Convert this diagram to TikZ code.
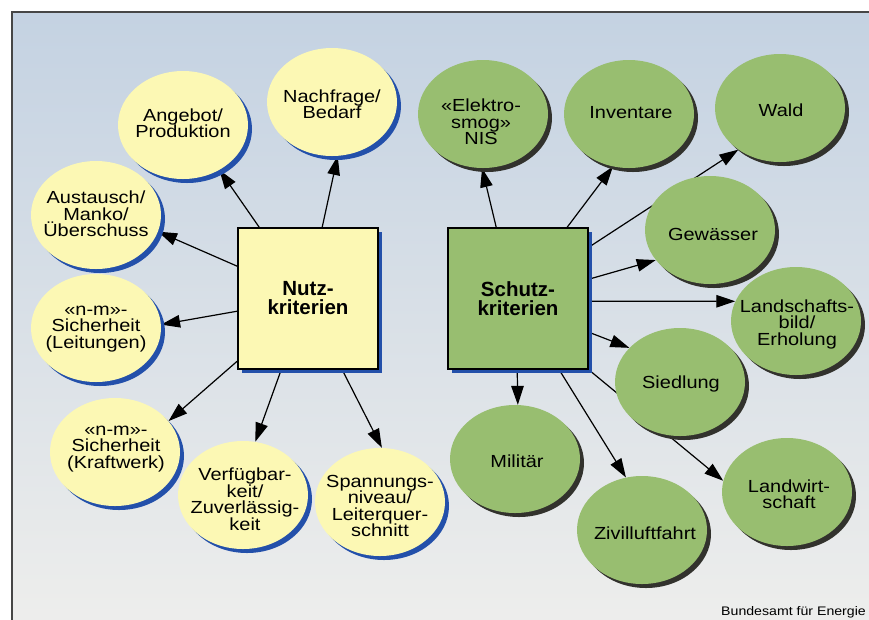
\documentclass[tikz,border=0pt]{standalone}
\usepackage{fontspec}
\setmainfont{Liberation Sans}
\newfontfamily\widesans{Liberation Sans}[FakeStretch=1.14]
\usetikzlibrary{shapes.geometric,arrows.meta,shadows,calc}
\pgfdeclarelayer{bglayer}
\pgfdeclarelayer{edgelayer}
\pgfsetlayers{bglayer,edgelayer,main}
\definecolor{yel}{RGB}{252,248,180}
\definecolor{grn}{RGB}{152,190,112}
\definecolor{shblue}{RGB}{35,80,170}
\definecolor{shgray}{RGB}{50,50,45}
\definecolor{bgtop}{RGB}{196,210,226}
\definecolor{bgbot}{RGB}{238,238,236}
\definecolor{framec}{RGB}{70,70,70}
\begin{document}
\begin{tikzpicture}[x=1pt,y=-1pt,
  ell/.style={ellipse, minimum width=130pt, minimum height=108pt, inner sep=0pt},
  yell/.style={ell, fill=yel, drop shadow={shadow xshift=4pt, shadow yshift=-4pt, fill=shblue, opacity=1}},
  gell/.style={ell, fill=grn, drop shadow={shadow xshift=4pt, shadow yshift=-4pt, fill=shgray, opacity=1}},
  lbl/.style={align=center, font=\widesans\fontsize{17.5}{16.5}\selectfont, inner sep=0pt},
  critbox/.style={rectangle, minimum width=140pt, minimum height=141pt, draw=black, line width=1.6pt, drop shadow={shadow xshift=4pt, shadow yshift=-4pt, fill=shblue, opacity=1}},
  boxlbl/.style={align=center, font=\bfseries\fontsize{20.5}{19}\selectfont, inner sep=0pt},
  arr/.style={-{Triangle[length=19pt,width=12.5pt]}, line width=1.2pt, black},
]
\useasboundingbox (0,0) rectangle (869,619);
\begin{pgfonlayer}{bglayer}
\fill[white] (0,0) rectangle (869,619);
\shade[top color=bgtop, bottom color=bgbot] (12,12) rectangle (880,630);
\draw[framec, line width=1.5pt] (12,630) -- (12,12) -- (880,12);
\end{pgfonlayer}

% central boxes
\node[critbox, fill=yel] (nutz) at (308,298.5) {};
\node[boxlbl] (nutzT) at (nutz) {Nutz-\\kriterien};
\node[critbox, fill=grn] (schutz) at (518,298.5) {};
\node[boxlbl] (schutzT) at (schutz) {Schutz-\\kriterien};

% yellow ellipses
\node[yell] (ang) at (183,125) {};
\node[lbl] (angT) at (183,123) {Angebot/\\Produktion};
\node[yell] (nf) at (332,102) {};
\node[lbl] (nfT) at (332,104) {Nachfrage/\\Bedarf};
\node[yell] (aus) at (96,215) {};
\node[lbl] (ausT) at (96,214) {Austausch/\\Manko/\\Überschuss};
\node[yell] (lei) at (96,328) {};
\node[lbl] (leiT) at (96,329) {«n-m»-\\Sicherheit\\(Leitungen)};
\node[yell] (kw) at (115,452) {};
\node[lbl] (kwT) at (116,449) {«n-m»-\\Sicherheit\\(Kraftwerk)};
\node[yell] (vf) at (243,495) {};
\node[lbl] (vfT) at (245,499) {Verfügbar-\\keit/\\Zuverlässig-\\keit};
\node[yell] (sp) at (380,502) {};
\node[lbl] (spT) at (380,506) {Spannungs-\\niveau/\\Leiterquer-\\schnitt};

% green ellipses
\node[gell] (el) at (483,114) {};
\node[lbl] (elT) at (481,122) {«Elektro-\\smog»\\NIS};
\node[gell] (inv) at (629,114) {};
\node[lbl] (invT) at (631,113) {Inventare};
\node[gell] (wald) at (780,108) {};
\node[lbl] (waldT) at (781,110) {Wald};
\node[gell] (gew) at (710,230) {};
\node[lbl] (gewT) at (713,234) {Gewässer};
\node[gell] (land) at (796,321) {};
\node[lbl] (landT) at (797,324) {Landschafts-\\bild/\\Erholung};
\node[gell] (sied) at (680,382) {};
\node[lbl] (siedT) at (681,384) {Siedlung};
\node[gell] (mil) at (515,459) {};
\node[lbl] (milT) at (517,461) {Militär};
\node[gell] (ziv) at (642,530) {};
\node[lbl] (zivT) at (645,533) {Zivilluftfahrt};
\node[gell] (lw) at (787,492) {};
\node[lbl] (lwT) at (789,494) {Landwirt-\\schaft};

\node[anchor=base east, font=\widesans\fontsize{12.4}{14}\selectfont, inner sep=0pt] (src) at (866,615) {Bundesamt für Energie};

\begin{pgfonlayer}{edgelayer}
\draw[arr] ($(nutz.north west)+(22,0)$) -- (ang.-51);
\draw[arr] ($(nutz.north west)+(85,0)$) -- (nf.-84);
\draw[arr] ($(nutz.north west)+(0,39)$) -- (aus.-15);
\draw[arr] ($(nutz.north west)+(0,84)$) -- (lei.3);
\draw[arr] ($(nutz.north west)+(0,134)$) -- (kw.30);
\draw[arr] ($(nutz.south west)+(44,0)$) -- (vf.77);
\draw[arr] ($(nutz.south west)+(105,0)$) -- (sp.88);

\draw[arr] ($(schutz.north west)+(49,0)$) -- (el.-91);
\draw[arr] ($(schutz.north west)+(120,0)$) -- (inv.-107);
\draw[arr] ($(schutz.north east)+(0,20)$) -- (wald.-135);
\draw[arr] ($(schutz.north east)+(0,52)$) -- (gew.-151);
\draw[arr] ($(schutz.north east)+(0,74)$) -- (land.162);
\draw[arr] ($(schutz.north east)+(0,105)$) -- (sied.146);
\draw[arr] ($(schutz.south west)+(70,0)$) -- (mil.87);
\draw[arr] ($(schutz.south west)+(112,0)$) -- (ziv.107);
\draw[arr] (schutz.south east) -- (lw.170);
\end{pgfonlayer}
\end{tikzpicture}
\end{document}
